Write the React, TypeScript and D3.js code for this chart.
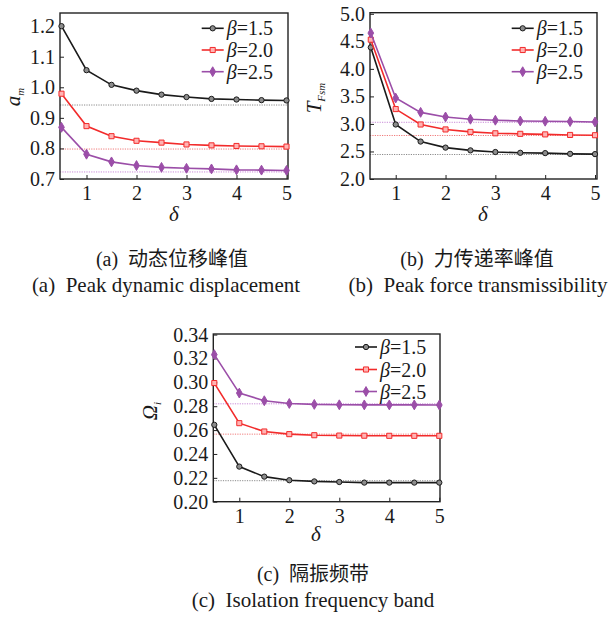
import { useRef, useEffect } from "react";
import * as d3 from "d3";

// delta values on the x axis (same for all three panels)
const delta = [0.5, 1, 1.5, 2, 2.5, 3, 3.5, 4, 4.5, 5];
const betaLabels = ["1.5", "2.0", "2.5"];
const xTicks = [1, 2, 3, 4, 5];

const colors = ["#1a1a1a", "#f22b2b", "#9b4ea8"];
const refColors = ["#8a8a8a", "#f07a7a", "#c98ad8"];
const markerFill = ["#8c8c8c", "#ffb3b3", "#9b4ea8"];

// (a) peak dynamic displacement a_m
const amBeta15 = [1.2, 1.056, 1.008, 0.989, 0.976, 0.968, 0.962, 0.96, 0.958, 0.957];
const amBeta20 = [0.979, 0.873, 0.84, 0.825, 0.819, 0.813, 0.81, 0.808, 0.807, 0.806];
const amBeta25 = [0.869, 0.781, 0.756, 0.744, 0.738, 0.735, 0.733, 0.73, 0.729, 0.728];
const amRef = [0.942, 0.798, 0.723];
const amTicks = [0.7, 0.8, 0.9, 1.0, 1.1, 1.2];

// (b) peak force transmissibility T_Fsm
const tfBeta15 = [4.39, 2.99, 2.68, 2.57, 2.52, 2.49, 2.476, 2.47, 2.457, 2.452];
const tfBeta20 = [4.53, 3.27, 2.99, 2.9, 2.855, 2.83, 2.82, 2.81, 2.8, 2.795];
const tfBeta25 = [4.65, 3.47, 3.21, 3.127, 3.085, 3.067, 3.054, 3.049, 3.043, 3.036];
const tfRef = [2.445, 2.79, 3.03];
const tfTicks = [2.0, 2.5, 3.0, 3.5, 4.0, 4.5, 5.0];

// (c) isolation frequency band Omega_i
const omBeta15 = [0.2644, 0.2294, 0.221, 0.218, 0.217, 0.2165, 0.216, 0.216, 0.216, 0.216];
const omBeta20 = [0.2994, 0.2658, 0.2588, 0.2566, 0.2557, 0.2554, 0.2553, 0.2552, 0.2552, 0.2552];
const omBeta25 = [0.3232, 0.291, 0.2846, 0.2823, 0.2815, 0.2812, 0.2811, 0.2811, 0.2811, 0.281];
const omRef = [0.2176, 0.2566, 0.282];
const omTicks = [0.2, 0.22, 0.24, 0.26, 0.28, 0.3, 0.32, 0.34];

const serif = "Liberation Serif, DejaVu Serif, Noto Serif, Times New Roman, serif";

const panels = [
  {
    series: [amBeta15, amBeta20, amBeta25], refs: amRef, yTicks: amTicks, fmt: ".1f",
    xRange: [60, 288], yRange: [179, 13], xDomain: [0.47, 5.03], yDomain: [0.7, 1.243],
    legend: { x: 201.7, y: [28.3, 50, 71.7] },
    yLabel: { x: 14, y: 97, main: "a", sub: "m" }, dLabel: { x: 174, y: 221 },
  },
  {
    series: [tfBeta15, tfBeta20, tfBeta25], refs: tfRef, yTicks: tfTicks, fmt: ".1f",
    xRange: [370, 597], yRange: [179, 12.7], xDomain: [0.484, 5.04], yDomain: [2, 5.02],
    legend: { x: 511.7, y: [28.3, 50, 71.7] },
    yLabel: { x: 315, y: 98, main: "T", sub: "Fsm" }, dLabel: { x: 483, y: 221 },
  },
  {
    series: [omBeta15, omBeta20, omBeta25], refs: omRef, yTicks: omTicks, fmt: ".2f",
    xRange: [213.3, 440], yRange: [501.7, 334], xDomain: [0.48, 5.014], yDomain: [0.2, 0.3405],
    legend: { x: 355, y: [347, 369.5, 391.5] },
    yLabel: { x: 151, y: 411, main: "Ω", sub: "i" }, dLabel: { x: 316, y: 541 },
  },
];

const captions = [
  { x: 172, y: 266, size: 20, text: "(a)  动态位移峰值" },
  { x: 166, y: 292, size: 21, text: "(a)  Peak dynamic displacement" },
  { x: 477, y: 266, size: 20, text: "(b)  力传递率峰值" },
  { x: 478, y: 292, size: 21, text: "(b)  Peak force transmissibility" },
  { x: 313, y: 581, size: 20, text: "(c)  隔振频带" },
  { x: 313, y: 607, size: 21, text: "(c)  Isolation frequency band" },
];

const symbols = [d3.symbolCircle, d3.symbolSquare, d3.symbolDiamond];
const symbolSizes = [22, 26, 28];

function drawMarker(g: any, i: number, cx: number, cy: number) {
  g.append("path")
    .attr("d", d3.symbol().type(symbols[i]).size(symbolSizes[i])())
    .attr("transform", `translate(${cx},${cy})`)
    .attr("fill", markerFill[i])
    .attr("stroke", colors[i])
    .attr("stroke-width", 1);
}

function drawPanel(svg: any, p: any) {
  const x = d3.scaleLinear().domain(p.xDomain).range(p.xRange);
  const y = d3.scaleLinear().domain(p.yDomain).range(p.yRange);
  const g = svg.append("g");

  // dotted reference lines
  p.refs.forEach((r: number, i: number) => {
    g.append("line")
      .attr("x1", p.xRange[0]).attr("x2", p.xRange[1])
      .attr("y1", y(r)).attr("y2", y(r))
      .attr("stroke", refColors[i])
      .attr("stroke-width", 1)
      .attr("stroke-dasharray", "1.2,1.2");
  });

  // axes, ticks pointing inward
  const yAxis = g.append("g")
    .attr("transform", `translate(${p.xRange[0]},0)`)
    .call(d3.axisLeft(y).tickValues(p.yTicks).tickFormat(d3.format(p.fmt)).tickSizeInner(-4).tickSizeOuter(0).tickPadding(5));
  const xAxis = g.append("g")
    .attr("transform", `translate(0,${p.yRange[0]})`)
    .call(d3.axisBottom(x).tickValues(xTicks).tickFormat(d3.format("d")).tickSizeInner(-4).tickSizeOuter(0).tickPadding(7));
  [yAxis, xAxis].forEach((a) => {
    a.select(".domain").remove();
    a.selectAll("line").attr("stroke", "#222").attr("stroke-width", 1);
    a.selectAll("text").attr("font-family", serif).attr("font-size", 20).attr("fill", "#1a1a1a");
  });

  // frame
  g.append("rect")
    .attr("x", p.xRange[0]).attr("y", p.yRange[1])
    .attr("width", p.xRange[1] - p.xRange[0])
    .attr("height", p.yRange[0] - p.yRange[1])
    .attr("fill", "none").attr("stroke", "#222").attr("stroke-width", 1.4);

  // series
  const line = d3.line<number>().x((d, k) => x(delta[k])).y((d) => y(d));
  p.series.forEach((vals: number[], i: number) => {
    g.append("path").attr("d", line(vals)).attr("fill", "none")
      .attr("stroke", colors[i]).attr("stroke-width", 1.6);
    vals.forEach((v, k) => drawMarker(g, i, x(delta[k]), y(v)));
  });

  // legend
  betaLabels.forEach((b, i) => {
    const ly = p.legend.y[i];
    g.append("line").attr("x1", p.legend.x).attr("x2", p.legend.x + 22)
      .attr("y1", ly).attr("y2", ly).attr("stroke", colors[i]).attr("stroke-width", 1.6);
    drawMarker(g, i, p.legend.x + 11, ly);
    const t = g.append("text").attr("x", p.legend.x + 25).attr("y", ly + 7)
      .attr("font-family", serif).attr("font-size", 20).attr("fill", "#1a1a1a");
    t.append("tspan").attr("font-style", "italic").text("β");
    t.append("tspan").text("=" + b);
  });

  // y axis title
  const yl = g.append("text")
    .attr("transform", `translate(${p.yLabel.x + 6},${p.yLabel.y}) rotate(-90)`)
    .attr("text-anchor", "middle")
    .attr("font-family", serif).attr("font-size", 21).attr("fill", "#1a1a1a");
  yl.append("tspan").attr("font-style", "italic").text(p.yLabel.main);
  yl.append("tspan").attr("font-style", "italic").attr("font-size", 11).attr("dy", 4).text(p.yLabel.sub);

  // x axis title
  g.append("text").attr("x", p.dLabel.x).attr("y", p.dLabel.y)
    .attr("text-anchor", "middle").attr("font-family", serif).attr("font-style", "italic")
    .attr("font-size", 21).attr("fill", "#1a1a1a").text("δ");
}

function App() {
  const ref = useRef<SVGSVGElement>(null);

  useEffect(() => {
    const svg = d3.select(ref.current);
    svg.selectAll("*").remove();

    panels.forEach((p) => drawPanel(svg, p));

    captions.forEach((c) => {
      svg.append("text")
        .attr("x", c.x).attr("y", c.y)
        .attr("text-anchor", "middle")
        .attr("font-family", "Liberation Serif, DejaVu Serif, Noto Sans CJK SC, serif")
        .attr("font-size", c.size)
        .attr("fill", "#1a1a1a")
        .style("white-space", "pre")
        .text(c.text);
    });
  }, []);

  return (
    <svg
      ref={ref}
      width="616"
      height="622"
      style={{ position: "absolute", left: 0, top: 0, background: "#fff" }}
    />
  );
}

export default App;
